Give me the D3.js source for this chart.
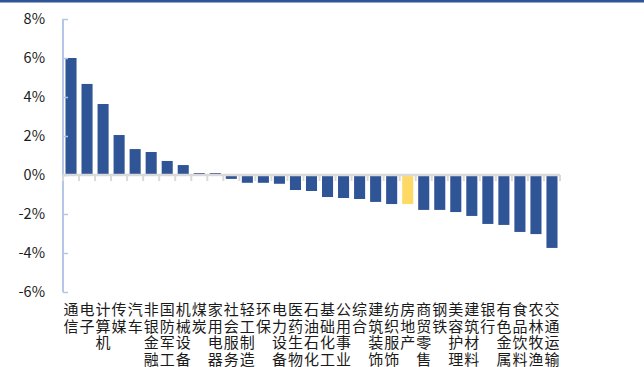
<!DOCTYPE html>
<html>
<head>
<meta charset="utf-8">
<script src="https://cdn.jsdelivr.net/npm/d3@7/dist/d3.min.js"></script>
<style>
  html, body { margin: 0; padding: 0; background: #fff; }
  svg { display: block; }
  text { font-family: "Noto Sans CJK SC", "Noto Sans", sans-serif; fill: #1a1a1a; }
</style>
</head>
<body>
<svg id="chart" width="644" height="367"></svg>
<script>
// Industry names (Shenwan level-1) in chart order
const categories = [
  "通信", "电子", "计算机", "传媒", "汽车", "非银金融", "国防军工", "机械设备",
  "煤炭", "家用电器", "社会服务", "轻工制造", "环保", "电力设备", "医药生物",
  "石油石化", "基础化工", "公用事业", "综合", "建筑装饰", "纺织服饰", "房地产",
  "商贸零售", "钢铁", "美容护理", "建筑材料", "银行", "有色金属", "食品饮料",
  "农林牧渔", "交通运输"
];
// Weekly change, percent
const values = [
  6.00, 4.67, 3.64, 2.05, 1.33, 1.18, 0.72, 0.51,
  0.10, 0.10, -0.20, -0.40, -0.40, -0.45, -0.77,
  -0.82, -1.13, -1.18, -1.23, -1.38, -1.49, -1.49,
  -1.79, -1.79, -1.90, -2.10, -2.51, -2.56, -2.92,
  -3.03, -3.74
];
const highlighted = ["房地产"];
const yTicks = [-6, -4, -2, 0, 2, 4, 6, 8];

const svg = d3.select("#chart");
const W = 644, H = 367;

// top rule
svg.append("rect").attr("x", 0).attr("y", 0).attr("width", W).attr("height", 2.5)
  .attr("fill", "#2f5597");

const x = d3.scaleBand().domain(categories).range([63, 560]).paddingInner(0.31).paddingOuter(0.155);
const y = d3.scaleLinear().domain([-6, 8]).range([292, 19]);

// bars
svg.append("g").selectAll("rect").data(categories).join("rect")
  .attr("x", d => x(d))
  .attr("width", x.bandwidth())
  .attr("y", (d, i) => Math.min(y(values[i]), y(0)))
  .attr("height", (d, i) => Math.abs(y(values[i]) - y(0)))
  .attr("fill", d => highlighted.includes(d) ? "#ffd966" : "#2f5597");

// y axis
const yAxis = d3.axisRight(y).tickValues(yTicks).tickSize(5).tickFormat("");
const gy = svg.append("g").attr("transform", "translate(63,0)").call(yAxis);
gy.select(".domain").attr("stroke", "#b4c7e7").attr("stroke-width", 2)
  .attr("d", `M0,${y(8)}V${y(-6)}`);
gy.selectAll(".tick line").attr("stroke", "#b4c7e7").attr("stroke-width", 1.5);

svg.append("g").selectAll("text").data(yTicks).join("text")
  .attr("x", 45).attr("y", d => y(d))
  .attr("dy", "0.36em")
  .attr("text-anchor", "end")
  .attr("font-size", 14.5)
  .text(d => d + "%");

// zero baseline with category ticks
const step = x.step();
const edges = d3.range(categories.length + 1).map(i => 63 + i * step);
svg.append("g").selectAll("line").data(edges).join("line")
  .attr("x1", d => d).attr("x2", d => d)
  .attr("y1", y(0)).attr("y2", y(0) + 6)
  .attr("stroke", "#d9d9d9").attr("stroke-width", 2);
svg.append("line")
  .attr("x1", 63).attr("x2", 560).attr("y1", y(0)).attr("y2", y(0))
  .attr("stroke", "#d9d9d9").attr("stroke-width", 2.5);

// category labels, one character per line
const lab = svg.append("g").selectAll("text").data(categories).join("text")
  .attr("text-anchor", "middle")
  .attr("font-size", 15)
  .attr("transform", d => `translate(${x(d) + x.bandwidth() / 2},315)`);
lab.selectAll("tspan").data(d => Array.from(d)).join("tspan")
  .attr("x", 0)
  .attr("y", (c, i) => i * 16.5)
  .text(c => c);
</script>
</body>
</html>
